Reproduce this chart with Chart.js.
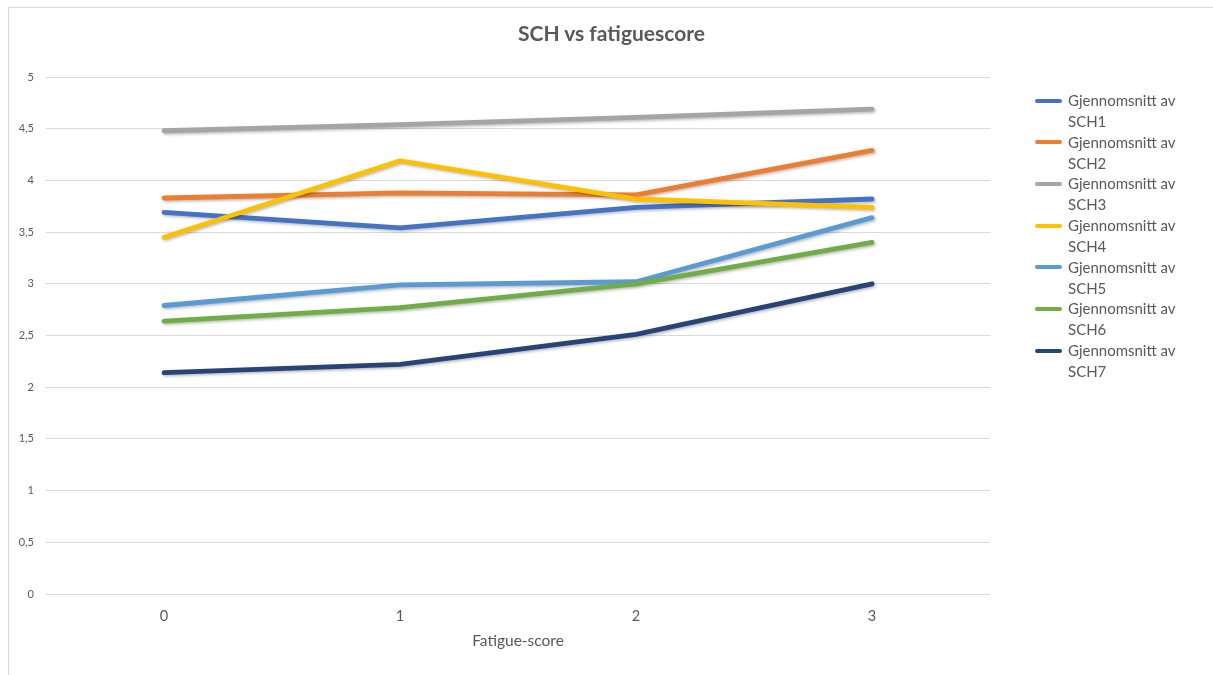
<!DOCTYPE html>
<html>
<head>
<meta charset="utf-8">
<script src="https://cdn.jsdelivr.net/npm/chart.js@4"></script>
<style>
  html, body { margin: 0; padding: 0; background: #fff; }
  #wrap { position: relative; width: 1213px; height: 675px; overflow: hidden; }
  #frame { position: absolute; left: 8px; top: 7px; right: -2px; bottom: -2px;
           border-left: 1px solid #d9d9d9; border-top: 1px solid #d9d9d9; }
  canvas { position: absolute; left: 0; top: 0; }
  #title { position: absolute; left: 0; width: 1223px; top: 19px; text-align: center;
           font-family: Lato, "Open Sans", sans-serif; font-weight: bold; font-size: 21px;
           line-height: 28px; color: #595959; }
  #legend { position: absolute; left: 1035px; top: 90px; font-family: Lato, "Open Sans", sans-serif;
            font-size: 15px; color: #595959; }
  .item { position: relative; height: 41.7px; line-height: 20.85px; padding-left: 33px; }
  .swatch { position: absolute; left: 0; top: 8.5px; width: 27px; height: 4px; border-radius: 2px; }
</style>
</head>
<body>
<div id="wrap">
  <div id="frame"></div>
  <canvas id="chart" width="1213" height="675"></canvas>
  <div id="title">SCH vs fatiguescore</div>
  <div id="legend"></div>
</div>
<script>
// Fatigue-score categories on the x axis
const categories = ['0', '1', '2', '3'];

// Average SCH item scores per fatigue-score group
const sch1 = [3.69, 3.54, 3.74, 3.82];
const sch2 = [3.83, 3.88, 3.86, 4.29];
const sch3 = [4.48, 4.54, 4.61, 4.69];
const sch4 = [3.45, 4.19, 3.82, 3.74];
const sch5 = [2.79, 2.99, 3.02, 3.64];
const sch6 = [2.64, 2.77, 3.00, 3.40];
const sch7 = [2.14, 2.22, 2.51, 3.00];

const seriesNames = ['SCH1', 'SCH2', 'SCH3', 'SCH4', 'SCH5', 'SCH6', 'SCH7'];
const seriesValues = [sch1, sch2, sch3, sch4, sch5, sch6, sch7];
const seriesColors = ['#4472C4', '#ED7D31', '#A5A5A5', '#FFC000', '#5B9BD5', '#70AD47', '#264478'];

const yTicks = [0, 0.5, 1, 1.5, 2, 2.5, 3, 3.5, 4, 4.5, 5];

const textColor = '#595959';
const gridColor = '#d9d9d9';
const family = 'Lato, "Open Sans", sans-serif';

const datasets = seriesValues.map((vals, i) => ({
  label: 'Gjennomsnitt av ' + seriesNames[i],
  data: vals,
  borderColor: seriesColors[i],
  backgroundColor: seriesColors[i],
  borderWidth: 4.8,
  borderCapStyle: 'round',
  borderJoinStyle: 'round',
  pointRadius: 0,
  pointHoverRadius: 0,
  tension: 0,
  fill: false,
  order: seriesValues.length - i
}));

// Soft drop shadow under each line
const lineShadow = {
  id: 'lineShadow',
  beforeDatasetDraw(chart) {
    const ctx = chart.ctx;
    ctx.save();
    ctx.shadowColor = 'rgba(0,0,0,0.28)';
    ctx.shadowBlur = 3;
    ctx.shadowOffsetX = 1.5;
    ctx.shadowOffsetY = 1.5;
  },
  afterDatasetDraw(chart) {
    chart.ctx.restore();
  }
};

new Chart(document.getElementById('chart'), {
  type: 'line',
  data: { labels: categories, datasets },
  plugins: [lineShadow],
  options: {
    responsive: false,
    animation: false,
    layout: { padding: { left: 0, right: 223, top: 77, bottom: 22 } },
    plugins: {
      legend: { display: false },
      tooltip: { enabled: false },
      title: { display: false }
    },
    scales: {
      x: {
        offset: true,
        grid: { display: false, drawTicks: false },
        border: { display: false },
        ticks: { color: textColor, font: { family, size: 14.5 }, padding: 14 },
        title: {
          display: true,
          text: 'Fatigue-score',
          color: textColor,
          font: { family, size: 15.5 },
          padding: { top: -8, bottom: 3 }
        }
      },
      y: {
        min: 0,
        max: 5,
        afterBuildTicks(scale) { scale.ticks = yTicks.map(v => ({ value: v })); },
        afterFit(scale) { scale.width = 46; },
        grid: { color: gridColor, lineWidth: 1, drawTicks: false },
        border: { display: false },
        ticks: {
          color: textColor,
          font: { family, size: 11 },
          padding: 12,
          callback: v => String(v).replace('.', ',')
        }
      }
    }
  }
});

// Two-line legend entries on the right
const legend = document.getElementById('legend');
seriesNames.forEach((name, i) => {
  const item = document.createElement('div');
  item.className = 'item';
  const sw = document.createElement('span');
  sw.className = 'swatch';
  sw.style.background = seriesColors[i];
  item.appendChild(sw);
  item.appendChild(document.createTextNode('Gjennomsnitt av'));
  item.appendChild(document.createElement('br'));
  item.appendChild(document.createTextNode(name));
  legend.appendChild(item);
});
</script>
</body>
</html>
